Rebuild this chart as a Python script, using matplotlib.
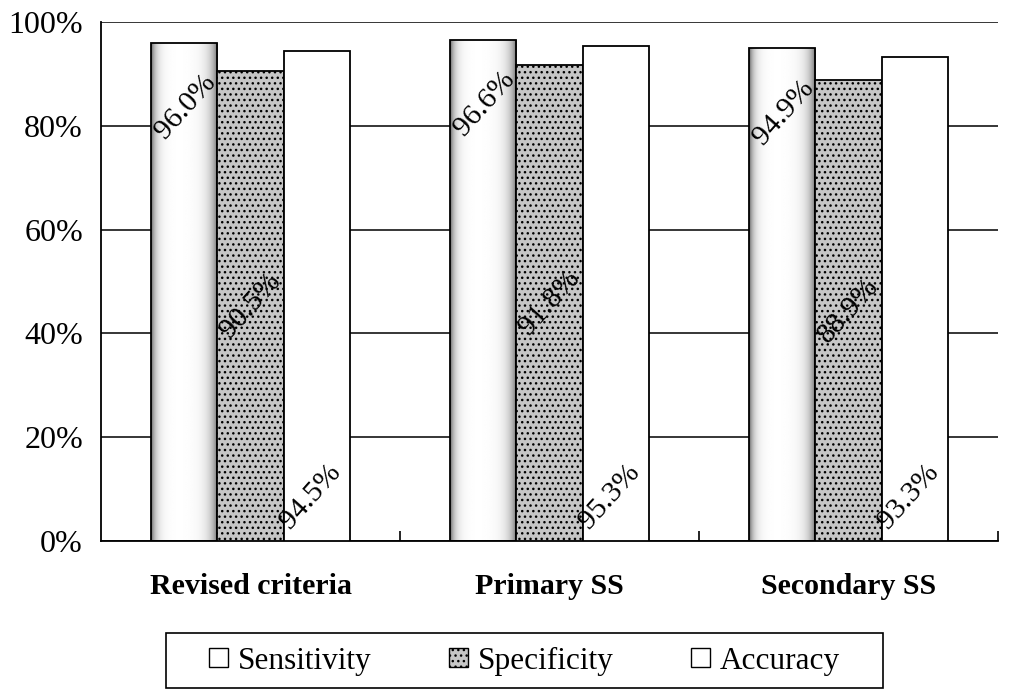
import numpy as np
import matplotlib
matplotlib.use("Agg")
from matplotlib import pyplot as plt
from matplotlib.patches import Patch, Rectangle
from matplotlib.ticker import FixedLocator

# Diagnostic performance of each criteria set (%)
categories = ["Revised criteria", "Primary SS", "Secondary SS"]
series_names = ["Sensitivity", "Specificity", "Accuracy"]
sensitivity = [96.0, 96.6, 94.9]
specificity = [90.5, 91.8, 88.9]
accuracy = [94.5, 95.3, 93.3]

plt.rcParams["font.family"] = ["Liberation Serif", "DejaVu Serif"]
plt.rcParams["hatch.linewidth"] = 1.0

figure = plt.figure(figsize=(10.1, 6.92), dpi=100)
axes = figure.add_axes([101/1010, 1 - 541/692, (998 - 101)/1010, (541 - 22)/692])

x = np.arange(len(categories))
width = 0.2224
spec_color = "#c6c6c6"

sens_bars = axes.bar(x - width, np.array(sensitivity)/100, width, facecolor="none",
                     edgecolor="black", linewidth=1.3, zorder=3)
spec_bars = axes.bar(x, np.array(specificity)/100, width, facecolor=spec_color,
                     edgecolor="black", hatch="...", linewidth=1.3, zorder=3)
acc_bars = axes.bar(x + width, np.array(accuracy)/100, width, facecolor="white",
                    edgecolor="black", linewidth=1.3, zorder=3)

# Shaded edges on the sensitivity bars
t = np.linspace(0, 1, 200)
shade = 1 - 0.6*np.maximum(np.exp(-t/0.07), np.exp(-(1 - t)/0.10))
shade = np.tile(shade, (2, 1))
for bar in sens_bars:
  x0, y0 = bar.get_x(), bar.get_y()
  im = axes.imshow(shade, cmap="gray", vmin=0, vmax=1, aspect="auto",
                   extent=(x0, x0 + bar.get_width(), y0, y0 + bar.get_height()),
                   interpolation="bilinear", zorder=2.5)
  im.set_clip_path(bar)

axes.set_xlim(-0.5, 2.5)
axes.set_ylim(0, 1)

# Value labels: inside end, center, inside base
px = 72/100
for bar, v in zip(sens_bars, sensitivity):
  axes.annotate("%.1f%%" % v, (bar.get_x() + bar.get_width()/2, v/100),
                xytext=(2*px, -64*px), textcoords="offset points", rotation=48,
                ha="center", va="center", rotation_mode="anchor", fontsize=21.5,
                zorder=5)
for bar, v in zip(spec_bars, specificity):
  axes.annotate("%.1f%%" % v, (bar.get_x() + bar.get_width()/2, v/200),
                xytext=(0, 0), textcoords="offset points", rotation=48,
                ha="center", va="center", rotation_mode="anchor", fontsize=21.5,
                zorder=5)
for bar, v in zip(acc_bars, accuracy):
  axes.annotate("%.1f%%" % v, (bar.get_x() + bar.get_width()/2, 0),
                xytext=(-6*px, 44*px), textcoords="offset points", rotation=48,
                ha="center", va="center", rotation_mode="anchor", fontsize=21.5,
                zorder=5)

axes.set_yticks(np.linspace(0, 1, 6))
axes.set_yticklabels(["%d%%" % p for p in range(0, 101, 20)], fontsize=23)
axes.tick_params(axis="y", length=0, pad=13)
axes.yaxis.grid(True, color="black", linewidth=1.1)
axes.set_axisbelow(True)

axes.set_xticks(x)
axes.set_xticklabels(categories, fontsize=21.5, fontweight="bold")
axes.tick_params(axis="x", which="major", length=0, pad=23)
axes.xaxis.set_minor_locator(FixedLocator([0.5, 1.5, 2.5]))
axes.tick_params(axis="x", which="minor", direction="in", length=7, width=1.2)

for side in ["top", "right"]:
  axes.spines[side].set_visible(False)
for side in ["left", "bottom"]:
  axes.spines[side].set_linewidth(1.3)

handles = [Patch(facecolor="white", edgecolor="black", linewidth=1.0),
           Patch(facecolor=spec_color, edgecolor="black", hatch="...", linewidth=1.0),
           Patch(facecolor="white", edgecolor="black", linewidth=1.0)]
figure.legend(handles, series_names, loc="center", ncol=3, frameon=False,
              bbox_to_anchor=(524.5/1010, 1 - 661/692), fontsize=22.5,
              handlelength=0.6, handleheight=0.6, handletextpad=0.3,
              columnspacing=2.5)
figure.patches.append(Rectangle((166/1010, 1 - 688/692), (883 - 166)/1010,
                                (688 - 633)/692, transform=figure.transFigure,
                                facecolor="none", edgecolor="black", linewidth=1.2))

figure.savefig("out.png", dpi=100)
